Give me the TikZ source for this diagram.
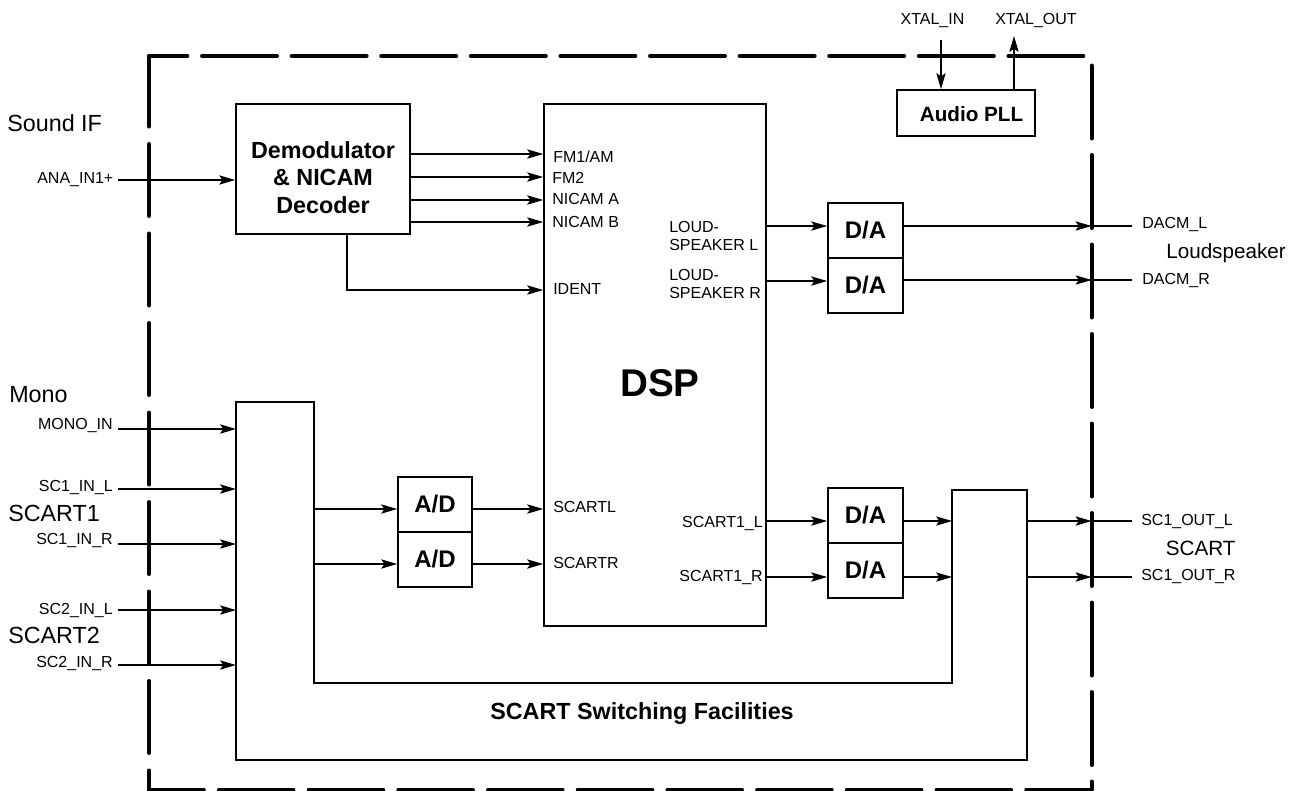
\documentclass[tikz,border=0pt]{standalone}
\usepackage{fontspec}
\setmainfont{Liberation Sans}
\usetikzlibrary{arrows.meta}
\begin{document}
\begin{tikzpicture}[x=0.75pt,y=-0.75pt,
  sig/.style={line width=0.8pt},
  arr/.style={sig,-{Stealth[length=12pt,width=7pt,inset=2.5pt]}},
  boxline/.style={line width=1.3pt},
  blk/.style={draw,boxline,inner sep=0pt,font=\bfseries\fontsize{18}{20}\selectfont},
  small/.style={font=\fontsize{12}{13.2}\selectfont,inner sep=0pt},
  medium/.style={font=\fontsize{15.5}{18}\selectfont,inner sep=0pt},
  large/.style={font=\fontsize{17.5}{20}\selectfont,inner sep=0pt},
  boldtxt/.style={font=\bfseries\fontsize{17.5}{20.6}\selectfont,inner sep=0pt},
  bord/.style={line width=3pt,line cap=round}]
\useasboundingbox (0,0) rectangle (1295,790);

% dashed outline
\draw[bord,dash pattern=on 56.25pt off 10.95pt,dash phase=27.45pt] (149,56) -- (1091.5,56);
\draw[bord,dash pattern=on 54pt off 13.125pt,dash phase=1.125pt] (149,56) -- (149,789.5);
\draw[bord,dash pattern=on 54.75pt off 12.375pt,dash phase=60pt] (1091.5,56) -- (1091.5,789.5);
\draw[bord,dash pattern=on 55.875pt off 11.4pt,dash phase=14.8pt] (149,789.5) -- (1091.5,789.5);

% blocks
\node[blk,minimum width=130.5pt,minimum height=97.5pt] (demod) at (323,169) {};
\node[boldtxt,align=center] (demodtxt) at (323,177.5) {Demodulator\\\& NICAM\\Decoder};
\node[blk,minimum width=166.5pt,minimum height=391.5pt] (dsp) at (655,365) {};
\node[font=\bfseries\fontsize{29}{33}\selectfont,inner sep=0pt] (dsptxt) at (660,383) {DSP};
\node[blk,minimum width=103.5pt,minimum height=34.5pt] (pll) at (966,113) {};
\node[font=\bfseries\fontsize{15.5}{18}\selectfont,inner sep=0pt] (plltxt) at (971.5,114) {Audio PLL};
\node[blk,minimum width=56.25pt,minimum height=41.25pt] (da1) at (865.5,230.5) {D/A};
\node[blk,minimum width=56.25pt,minimum height=41.25pt] (da2) at (865.5,285.5) {D/A};
\node[blk,minimum width=55.5pt,minimum height=41.25pt] (ad1) at (435,504.5) {A/D};
\node[blk,minimum width=55.5pt,minimum height=41.25pt] (ad2) at (435,559.5) {A/D};
\node[blk,minimum width=56.25pt,minimum height=41.25pt] (da3) at (865.5,515.5) {D/A};
\node[blk,minimum width=56.25pt,minimum height=41.25pt] (da4) at (865.5,570.5) {D/A};

% SCART switching block
\draw[boxline] (236,402) -- (314,402) -- (314,683) -- (952,683) -- (952,490)
  -- (1027,490) -- (1027,760) -- (236,760) -- cycle;
\node[boldtxt] (swtxt) at (642,713.3) {SCART Switching Facilities};
\coordinate (sw1) at (236,429);
\coordinate (sw2) at (236,489);
\coordinate (sw3) at (236,544);
\coordinate (sw4) at (236,610);
\coordinate (sw5) at (236,665);
\coordinate (swo1) at (314,509);
\coordinate (swo2) at (314,564);
\coordinate (swi1) at (952,521);
\coordinate (swi2) at (952,577);
\coordinate (swo3) at (1027,521);
\coordinate (swo4) at (1027,577);

% border crossings
\coordinate (bL) at (1091.5,226);
\coordinate (bR) at (1091.5,280);
\coordinate (bS1) at (1091.5,521);
\coordinate (bS2) at (1091.5,577);
\coordinate (xinend) at (941,40);
\coordinate (xoutend) at (1014,36);

% top labels
\node[small,anchor=base] (xin) at (932.5,24.7) {XTAL\_IN};
\node[small,anchor=base] (xout) at (1036,24.7) {XTAL\_OUT};
\draw[arr] (xinend) -- (pll.north -| xinend);
\draw[arr] (pll.north -| xoutend) -- (xoutend);

% left group labels
\node[large,anchor=base west] (soundif) at (7,131.7) {Sound IF};
\node[large,anchor=base west] (mono) at (9,402.7) {Mono};
\node[large,anchor=base west] (scart1) at (8,521.7) {SCART1};
\node[large,anchor=base west] (scart2) at (8,643.3) {SCART2};

% left inputs
\node[small,anchor=east,inner xsep=3.3pt] (anain) at (118,180) {ANA\_IN1+};
\draw[arr] (anain.east) -- (demod.west |- anain.east);
\node[small,anchor=base east,inner xsep=3.75pt] (monoin) at (118,429.7) {MONO\_IN};
\node[small,anchor=base east,inner xsep=3.75pt] (sc1l) at (118,491.7) {SC1\_IN\_L};
\node[small,anchor=base east,inner xsep=3.75pt] (sc1r) at (118,544.7) {SC1\_IN\_R};
\node[small,anchor=base east,inner xsep=3.75pt] (sc2l) at (118,614.7) {SC2\_IN\_L};
\node[small,anchor=base east,inner xsep=3.75pt] (sc2r) at (118,667.7) {SC2\_IN\_R};
\draw[arr] (monoin.east |- sw1) -- (sw1);
\draw[arr] (sc1l.east |- sw2) -- (sw2);
\draw[arr] (sc1r.east |- sw3) -- (sw3);
\draw[arr] (sc2l.east |- sw4) -- (sw4);
\draw[arr] (sc2r.east |- sw5) -- (sw5);

% demodulator to DSP
\draw[arr] (demod.east |- 0,154) -- (dsp.west |- 0,154);
\draw[arr] (demod.east |- 0,177) -- (dsp.west |- 0,177);
\draw[arr] (demod.east |- 0,200) -- (dsp.west |- 0,200);
\draw[arr] (demod.east |- 0,222) -- (dsp.west |- 0,222);
\draw[arr] (demod.south -| 347,0) |- (dsp.west |- 0,290);

% DSP internal labels
\node[small,anchor=base west] (lfm1) at (553,162.7) {FM1/AM};
\node[small,anchor=base west] (lfm2) at (552,183.7) {FM2};
\node[small,anchor=base west] (lna) at (552,204.7) {NICAM A};
\node[small,anchor=base west] (lnb) at (552,227.7) {NICAM B};
\node[small,anchor=base west] (lid) at (553,294.7) {IDENT};
\node[small,anchor=base west] (lscl) at (553,512.7) {SCARTL};
\node[small,anchor=base west] (lscr) at (553,568.7) {SCARTR};
\node[small,align=left,anchor=north west] (lspl) at (669,221.3) {LOUD-\\SPEAKER L};
\node[small,align=left,anchor=north west] (lspr) at (669,269.3) {LOUD-\\SPEAKER R};
\node[small,anchor=base east] (ls1l) at (763,527.7) {SCART1\_L};
\node[small,anchor=base east] (ls1r) at (763,581.7) {SCART1\_R};

% loudspeaker path
\draw[arr] (dsp.east |- 0,226) -- (da1.west |- 0,226);
\draw[arr] (dsp.east |- 0,281) -- (da2.west |- 0,281);
\draw[arr] (da1.east |- bL) -- (bL);
\draw[arr] (da2.east |- bR) -- (bR);
\node[small,anchor=base west,inner xsep=7.5pt] (dacml) at (1132,228.7) {DACM\_L};
\node[small,anchor=base west,inner xsep=7.5pt] (dacmr) at (1132,284.7) {DACM\_R};
\draw[sig] (bL) -- (dacml.west |- bL);
\draw[sig] (bR) -- (dacmr.west |- bR);
\node[medium,anchor=base west] (loud) at (1166,258) {Loudspeaker};

% SCART input path
\draw[arr] (swo1) -- (ad1.west |- swo1);
\draw[arr] (swo2) -- (ad2.west |- swo2);
\draw[arr] (ad1.east |- swo1) -- (dsp.west |- swo1);
\draw[arr] (ad2.east |- swo2) -- (dsp.west |- swo2);

% SCART output path
\draw[arr] (dsp.east |- swi1) -- (da3.west |- swi1);
\draw[arr] (dsp.east |- swi2) -- (da4.west |- swi2);
\draw[arr] (da3.east |- swi1) -- (swi1);
\draw[arr] (da4.east |- swi2) -- (swi2);
\draw[arr] (swo3) -- (bS1);
\draw[arr] (swo4) -- (bS2);
\node[small,anchor=base west,inner xsep=6.75pt] (sc1outl) at (1132,525.7) {SC1\_OUT\_L};
\node[small,anchor=base west,inner xsep=6.75pt] (sc1outr) at (1132,580.7) {SC1\_OUT\_R};
\draw[sig] (bS1) -- (sc1outl.west |- bS1);
\draw[sig] (bS2) -- (sc1outr.west |- bS2);
\node[medium,anchor=base] (scartout) at (1200.7,555.4) {SCART};
\end{tikzpicture}
\end{document}
